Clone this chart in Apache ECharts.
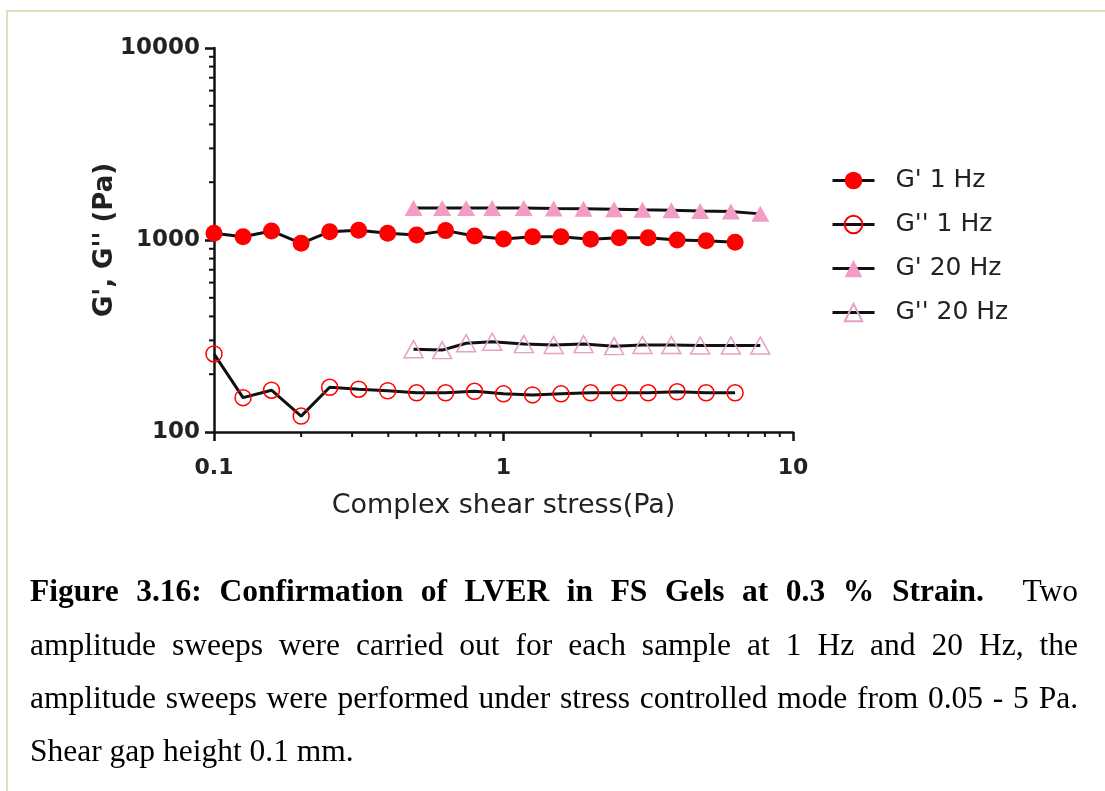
<!DOCTYPE html>
<html><head><meta charset="utf-8">
<script src="https://cdn.jsdelivr.net/npm/echarts@6/dist/echarts.min.js"></script>
<style>html,body{margin:0;padding:0;background:#fff;}#chart{width:1105px;height:791px;}</style>
</head><body><div id="chart"></div>
<script>
// ---- data ----
const stress1Hz = [0.1, 0.126, 0.158, 0.2, 0.251, 0.316, 0.398, 0.501, 0.631, 0.794, 1, 1.26, 1.58, 2, 2.51, 3.16, 3.98, 5.01, 6.31];
const gPrime1Hz = [1084, 1040, 1115, 961, 1105, 1124, 1084, 1062, 1119, 1049, 1012, 1040, 1040, 1008, 1028, 1028, 1000, 992, 973];
const gDouble1Hz = [255, 151, 165, 121, 171, 167, 164, 160, 160, 163, 158, 156, 158, 160, 160, 160, 162, 160, 160];
const stress20Hz = [0.489, 0.614, 0.743, 0.914, 1.175, 1.49, 1.89, 2.41, 3.02, 3.80, 4.78, 6.10, 7.71];
const gPrime20Hz = [1466, 1466, 1466, 1466, 1466, 1459, 1453, 1447, 1436, 1430, 1418, 1406, 1368];
const gDouble20Hz = [270, 267, 290, 295, 287, 284, 287, 280, 284, 284, 282, 282, 282];
const seriesNames = ["G' 1 Hz", "G'' 1 Hz", "G' 20 Hz", "G'' 20 Hz"];
const xTickLabels = ['0.1', '1', '10'];
const yTickLabels = ['100', '1000', '10000'];
const xMinorTicks = [0.2, 0.3, 0.4, 0.5, 0.6, 0.7, 0.8, 0.9, 2, 3, 4, 5, 6, 7, 8, 9];
const yMinorTicks = [200, 300, 400, 500, 600, 700, 800, 900, 2000, 3000, 4000, 5000, 6000, 7000, 8000, 9000];
const xAxisTitle = 'Complex shear stress(Pa)';
const yAxisTitle = "G', G'' (Pa)";
const captionLines = [
  [["Figure", 1], ["3.16:", 1], ["Confirmation", 1], ["of", 1], ["LVER", 1], ["in", 1], ["FS", 1], ["Gels", 1], ["at", 1], ["0.3", 1], ["%", 1], ["Strain.", 1], ["Two", 0]],
  [["amplitude",0],["sweeps",0],["were",0],["carried",0],["out",0],["for",0],["each",0],["sample",0],["at",0],["1",0],["Hz",0],["and",0],["20",0],["Hz,",0],["the",0]],
  [["amplitude",0],["sweeps",0],["were",0],["performed",0],["under",0],["stress",0],["controlled",0],["mode",0],["from",0],["0.05",0],["-",0],["5",0],["Pa.",0]],
  [["Shear",0],["gap",0],["height",0],["0.1",0],["mm.",0]]
];

const pair = (xs, ys) => xs.map((x, i) => [x, ys[i]]);
const BLACK = '#111';
const PINK = '#f29cc6';
const PINK_LINE = '#e3a1c6';
const RED = '#ff0000';
const LABEL_FONT = 'DejaVu Sans';

function tickRender(dx, dy) {
  return function (params, api) {
    const p = api.coord([api.value(0), api.value(1)]);
    return { type: 'line', shape: { x1: p[0], y1: p[1], x2: p[0] + dx, y2: p[1] + dy },
      style: { stroke: BLACK, lineWidth: 2 } };
  };
}
function labelFor(list) {
  return v => {
    const hit = list.find(s => Math.abs(Number(s) - v) < 1e-9 * Math.max(1, Math.abs(v)));
    return hit !== undefined ? hit : '';
  };
}

// caption layout (justified words)
const ctx = document.createElement('canvas').getContext('2d');
const CAP_SIZE = 31.5;
const capFont = b => (b ? 'bold ' : '') + CAP_SIZE + 'px "Liberation Serif", "Times New Roman", serif';
const capX0 = 30, capX1 = 1078;
const capY = [593, 647, 700, 753];
const graphics = [];
captionLines.forEach((words, li) => {
  const widths = words.map(w => { ctx.font = capFont(w[1]); return ctx.measureText(w[0]).width; });
  const total = widths.reduce((a, b) => a + b, 0);
  const justify = li < 3;
  const gapWeights = words.slice(1).map((w, i) => (li === 0 && i === words.length - 2) ? 2.2 : 1);
  const gw = gapWeights.reduce((a, b) => a + b, 0);
  ctx.font = capFont(0);
  const spaceW = ctx.measureText(' ').width;
  const unit = justify ? (capX1 - capX0 - total) / gw : spaceW;
  let x = capX0;
  words.forEach((w, i) => {
    graphics.push({ type: 'text', x: x, y: capY[li], silent: true,
      style: { text: w[0], font: capFont(w[1]), fill: '#000', align: 'left', verticalAlign: 'middle' } });
    x += widths[i] + (i < words.length - 1 ? unit * gapWeights[i] : 0);
  });
});
// page border
graphics.push({ type: 'line', silent: true, shape: { x1: 6, y1: 11, x2: 1105, y2: 11 }, style: { stroke: '#d3e5bd', lineWidth: 2 } });
graphics.push({ type: 'line', silent: true, shape: { x1: 7, y1: 11, x2: 7, y2: 791 }, style: { stroke: '#d3e5bd', lineWidth: 2 } });

const lineSeries = (name, xs, ys, symbol, size, itemStyle) => ({
  name, type: 'line', data: pair(xs, ys), symbol, symbolSize: size,
  lineStyle: { color: BLACK, width: 3 }, itemStyle, z: 3,
  emphasis: { disabled: true }, silent: true
});

const chart = echarts.init(document.getElementById('chart'), null, { renderer: 'canvas' });
chart.setOption({
  animation: false,
  backgroundColor: '#fff',
  grid: { left: 214, top: 48, width: 579, height: 384, containLabel: false },
  xAxis: {
    type: 'log', logBase: 10, min: 0.1, max: 10,
    name: xAxisTitle, nameLocation: 'middle', nameGap: 60, nameMoveOverlap: false,
    nameTextStyle: { fontFamily: LABEL_FONT, fontSize: 27, color: '#222' },
    axisLine: { lineStyle: { color: BLACK, width: 2.5 } },
    axisTick: { length: 9, lineStyle: { color: BLACK, width: 2.5 } },
    axisLabel: { margin: 25, fontFamily: LABEL_FONT, fontWeight: 'bold', fontSize: 22, color: '#222',
      formatter: labelFor(xTickLabels) },
    splitLine: { show: false }, minorTick: { show: false }
  },
  yAxis: {
    type: 'log', logBase: 10, min: 100, max: 10000,
    name: yAxisTitle, nameLocation: 'middle', nameGap: 96, nameRotate: 90, nameMoveOverlap: false,
    nameTextStyle: { fontFamily: LABEL_FONT, fontSize: 26, fontWeight: 'bold', color: '#222' },
    axisLine: { lineStyle: { color: BLACK, width: 2.5 } },
    axisTick: { length: 9, lineStyle: { color: BLACK, width: 2.5 } },
    axisLabel: { margin: 14, fontFamily: LABEL_FONT, fontWeight: 'bold', fontSize: 23, color: '#222',
      formatter: labelFor(yTickLabels) },
    splitLine: { show: false }, minorTick: { show: false }
  },
  legend: {
    data: seriesNames, orient: 'vertical', left: 826, top: 163,
    itemWidth: 42, itemHeight: 22, itemGap: 19,
    lineStyle: { width: 3, color: BLACK },
    textStyle: { fontFamily: LABEL_FONT, fontSize: 25, color: '#222', padding: [0, 0, 0, 16] },
    selectedMode: false
  },
  series: [
    lineSeries(seriesNames[0], stress1Hz, gPrime1Hz, 'circle', 17, { color: RED }),
    lineSeries(seriesNames[1], stress1Hz, gDouble1Hz, 'circle', 16, { color: 'rgba(0,0,0,0)', borderColor: RED, borderWidth: 1.5 }),
    lineSeries(seriesNames[2], stress20Hz, gPrime20Hz, 'triangle', [18, 16], { color: PINK }),
    lineSeries(seriesNames[3], stress20Hz, gDouble20Hz, 'triangle', [19, 17], { color: 'rgba(0,0,0,0)', borderColor: PINK_LINE, borderWidth: 1.5 }),
    { type: 'custom', name: 'yMinor', data: yMinorTicks.map(v => [0.1, v]), renderItem: tickRender(-5, 0), clip: false, silent: true, z: 5 },
    { type: 'custom', name: 'xMinor', data: xMinorTicks.map(v => [v, 100]), renderItem: tickRender(0, 5), clip: false, silent: true, z: 5 }
  ],
  graphic: graphics
});
</script></body></html>
